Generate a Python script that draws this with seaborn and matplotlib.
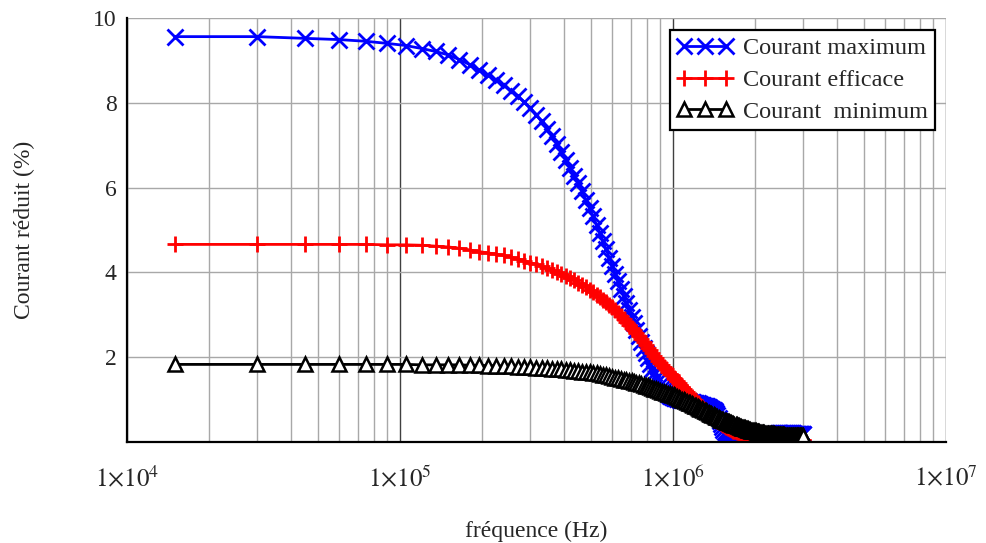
import numpy as np
import matplotlib
matplotlib.use("Agg")
import matplotlib.pyplot as plt
import seaborn as sns
from matplotlib.ticker import LogLocator, NullFormatter, FuncFormatter

# harmonics every 15 kHz, from 15 kHz to 3 MHz
harmonic = np.arange(1, 201)
freq = 15e3 * harmonic

# Courant maximum (%)
i_max = [
    9.56, 9.56, 9.52, 9.49, 9.45, 9.40, 9.35, 9.28, 9.21, 9.13,
    9.02, 8.90, 8.77, 8.65, 8.53, 8.41, 8.28, 8.15, 8.02, 7.88,
    7.72, 7.56, 7.39, 7.21, 7.03, 6.85, 6.66, 6.47, 6.28, 6.10,
    5.91, 5.71, 5.52, 5.32, 5.12, 4.93, 4.73, 4.54, 4.34, 4.15,
    3.97, 3.79, 3.61, 3.44, 3.27, 3.11, 2.95, 2.80, 2.65, 2.50,
    2.36, 2.22, 2.09, 1.97, 1.85, 1.73, 1.62, 1.52, 1.43, 1.35,
    1.28, 1.22, 1.17, 1.13, 1.09, 1.06, 1.04, 1.03, 1.02, 1.01,
    1.00, 0.99, 0.98, 0.98, 0.97, 0.96, 0.95, 0.94, 0.94, 0.93,
    0.92, 0.91, 0.90, 0.89, 0.88, 0.87, 0.86, 0.85, 0.84, 0.82,
    0.81, 0.79, 0.78, 0.76, 0.73, 0.69, 0.63, 0.56, 0.49, 0.42,
    0.35, 0.29, 0.24, 0.19, 0.15, 0.12, 0.10, 0.09, 0.08, 0.08,
    0.07, 0.07, 0.06, 0.06, 0.05, 0.05, 0.04, 0.04, 0.03, 0.03,
    0.03, 0.03, 0.03, 0.03, 0.03, 0.03, 0.03, 0.03, 0.03, 0.03,
    0.03, 0.03, 0.03, 0.03, 0.03, 0.03, 0.03, 0.04, 0.04, 0.05,
    0.05, 0.05, 0.06, 0.06, 0.06, 0.07, 0.08, 0.09, 0.11, 0.12,
    0.13, 0.14, 0.15, 0.16, 0.17, 0.18, 0.19, 0.19, 0.20, 0.20,
    0.20, 0.21, 0.21, 0.21, 0.21, 0.22, 0.22, 0.22, 0.22, 0.22,
    0.22, 0.22, 0.22, 0.22, 0.22, 0.22, 0.21, 0.21, 0.21, 0.21,
    0.21, 0.21, 0.21, 0.21, 0.20, 0.20, 0.20, 0.20, 0.20, 0.20,
    0.20, 0.20, 0.20, 0.20, 0.20, 0.20, 0.20, 0.20, 0.20, 0.20,
]

# Courant efficace (%)
i_eff = [
    4.66, 4.66, 4.66, 4.66, 4.66, 4.65, 4.65, 4.64, 4.62, 4.60,
    4.57, 4.53, 4.49, 4.46, 4.43, 4.40, 4.36, 4.32, 4.28, 4.23,
    4.19, 4.15, 4.11, 4.06, 4.02, 3.97, 3.92, 3.87, 3.82, 3.76,
    3.71, 3.65, 3.59, 3.53, 3.47, 3.42, 3.36, 3.30, 3.24, 3.18,
    3.12, 3.05, 2.98, 2.91, 2.84, 2.77, 2.70, 2.63, 2.56, 2.49,
    2.42, 2.35, 2.28, 2.22, 2.16, 2.10, 2.04, 1.98, 1.92, 1.86,
    1.81, 1.76, 1.71, 1.66, 1.61, 1.57, 1.52, 1.48, 1.43, 1.39,
    1.34, 1.30, 1.26, 1.21, 1.17, 1.13, 1.09, 1.05, 1.01, 0.98,
    0.94, 0.91, 0.87, 0.84, 0.81, 0.78, 0.75, 0.72, 0.69, 0.67,
    0.64, 0.61, 0.59, 0.56, 0.54, 0.52, 0.50, 0.48, 0.46, 0.44,
    0.42, 0.40, 0.38, 0.36, 0.35, 0.33, 0.32, 0.31, 0.30, 0.28,
    0.27, 0.26, 0.25, 0.24, 0.23, 0.22, 0.21, 0.21, 0.20, 0.19,
    0.19, 0.18, 0.18, 0.17, 0.17, 0.16, 0.16, 0.15, 0.15, 0.14,
    0.14, 0.14, 0.13, 0.13, 0.13, 0.13, 0.12, 0.12, 0.12, 0.12,
    0.11, 0.11, 0.11, 0.11, 0.11, 0.10, 0.10, 0.10, 0.10, 0.10,
    0.10, 0.09, 0.09, 0.09, 0.09, 0.09, 0.09, 0.09, 0.08, 0.08,
    0.08, 0.08, 0.08, 0.08, 0.08, 0.08, 0.08, 0.08, 0.08, 0.08,
    0.07, 0.07, 0.07, 0.07, 0.07, 0.07, 0.07, 0.07, 0.07, 0.07,
    0.06, 0.06, 0.06, 0.06, 0.06, 0.06, 0.06, 0.06, 0.06, 0.06,
    0.05, 0.05, 0.05, 0.05, 0.05, 0.05, 0.05, 0.05, 0.05, 0.05,
]

# Courant minimum (%)
i_min = [
    1.83, 1.83, 1.83, 1.83, 1.83, 1.83, 1.83, 1.82, 1.82, 1.82,
    1.82, 1.81, 1.81, 1.80, 1.80, 1.79, 1.79, 1.78, 1.77, 1.76,
    1.75, 1.74, 1.74, 1.73, 1.72, 1.71, 1.70, 1.69, 1.68, 1.67,
    1.66, 1.65, 1.64, 1.63, 1.62, 1.60, 1.59, 1.57, 1.55, 1.53,
    1.52, 1.50, 1.49, 1.47, 1.46, 1.44, 1.43, 1.41, 1.39, 1.38,
    1.36, 1.34, 1.33, 1.31, 1.29, 1.28, 1.26, 1.24, 1.22, 1.21,
    1.19, 1.18, 1.16, 1.14, 1.13, 1.11, 1.10, 1.08, 1.06, 1.04,
    1.02, 1.00, 0.99, 0.97, 0.95, 0.93, 0.91, 0.90, 0.88, 0.86,
    0.84, 0.83, 0.81, 0.79, 0.78, 0.76, 0.74, 0.72, 0.70, 0.69,
    0.67, 0.66, 0.64, 0.63, 0.61, 0.60, 0.58, 0.56, 0.55, 0.53,
    0.52, 0.51, 0.50, 0.49, 0.48, 0.47, 0.46, 0.45, 0.44, 0.43,
    0.42, 0.41, 0.40, 0.39, 0.38, 0.37, 0.36, 0.35, 0.34, 0.33,
    0.32, 0.32, 0.31, 0.30, 0.30, 0.29, 0.28, 0.28, 0.27, 0.27,
    0.26, 0.26, 0.25, 0.25, 0.24, 0.24, 0.23, 0.23, 0.22, 0.22,
    0.22, 0.21, 0.21, 0.21, 0.20, 0.20, 0.20, 0.19, 0.19, 0.19,
    0.19, 0.18, 0.18, 0.18, 0.18, 0.18, 0.17, 0.17, 0.17, 0.17,
    0.17, 0.17, 0.16, 0.16, 0.16, 0.16, 0.16, 0.16, 0.16, 0.16,
    0.15, 0.15, 0.15, 0.15, 0.15, 0.15, 0.15, 0.15, 0.15, 0.15,
    0.15, 0.15, 0.15, 0.15, 0.14, 0.14, 0.14, 0.14, 0.14, 0.14,
    0.14, 0.14, 0.14, 0.14, 0.14, 0.14, 0.14, 0.14, 0.14, 0.14,
]

labels = ["Courant maximum", "Courant efficace", "Courant  minimum"]

sns.set_style("white")
plt.rcParams["font.family"] = ["Liberation Serif", "DejaVu Serif"]
plt.rcParams["mathtext.fontset"] = "stix"

fig = plt.figure(figsize=(9.86, 5.43), dpi=100)
ax = fig.add_axes([0.1288, 0.186, 0.8306, 0.7809])

sns.lineplot(x=freq, y=i_max, ax=ax, sort=False, errorbar=None,
             color="#0000ff", lw=2, marker="x", markersize=11,
             markeredgewidth=2, markeredgecolor="#0000ff",
             label=labels[0], zorder=3)
sns.lineplot(x=freq, y=i_eff, ax=ax, sort=False, errorbar=None,
             color="#ff0000", lw=2, marker="+", markersize=12,
             markeredgewidth=2, markeredgecolor="#ff0000",
             label=labels[1], zorder=4)
sns.lineplot(x=freq, y=i_min, ax=ax, sort=False, errorbar=None,
             color="black", lw=2, marker="^", markersize=9.5,
             markeredgewidth=1.8, markeredgecolor="black",
             markerfacecolor="white", label=labels[2], zorder=5)

ax.set_xscale("log")
ax.set_xlim(1e4, 1e7)
ax.set_ylim(0, 10)
ax.set_yticks([2, 4, 6, 8, 10])
ax.xaxis.set_minor_locator(LogLocator(base=10, subs=range(2, 10)))
ax.xaxis.set_minor_formatter(NullFormatter())
ax.xaxis.set_major_formatter(
    FuncFormatter(lambda v, p: r"$1{\times}10^{%d}$" % round(np.log10(v))))

ax.set_axisbelow(True)
ax.grid(which="minor", axis="x", color="#a8a8a8", lw=1.0)
ax.grid(which="major", axis="x", color="#404040", lw=1.0)
ax.grid(which="major", axis="y", color="#a8a8a8", lw=1.0)

for s in ["top", "right"]:
    ax.spines[s].set_visible(False)
for s in ["left", "bottom"]:
    ax.spines[s].set_color("black")
    ax.spines[s].set_linewidth(1.6)
    ax.spines[s].set_zorder(6)

ax.tick_params(axis="x", which="both", direction="inout", length=8,
               width=1.5, color="black", labelsize=18, pad=13)
ax.tick_params(axis="y", which="major", direction="inout", length=9,
               width=1.5, color="black", labelsize=17, pad=3)

ax.set_xlabel("fréquence (Hz)", fontsize=17)
ax.xaxis.set_label_coords(0.5, -0.185)
ax.set_ylabel("Courant réduit (%)", fontsize=17)
ax.yaxis.set_label_coords(-0.112, 0.5)

leg = ax.legend(loc="upper right", bbox_to_anchor=(0.9866, 0.9717),
                numpoints=3, handlelength=2.3, fontsize=17.5, frameon=True,
                fancybox=False, edgecolor="black", framealpha=1,
                borderpad=0.3, labelspacing=0.4, handletextpad=0.4,
                borderaxespad=0)
leg.get_frame().set_linewidth(1.6)
leg.set_zorder(10)

fig.savefig("out.png", dpi=100)
